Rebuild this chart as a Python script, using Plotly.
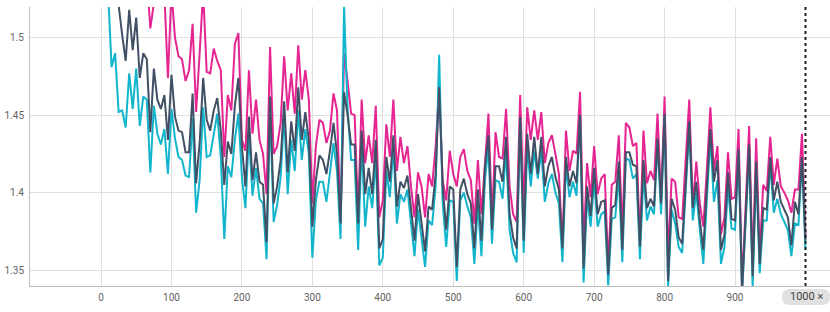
import plotly.graph_objects as go

# training steps, one logged value every 5 steps
steps = list(range(0, 1001, 5))

run_pink = [
    1.700, 1.680, 1.660, 1.640, 1.620, 1.610, 1.600, 1.590, 1.580, 1.570,
    1.560, 1.560, 1.550, 1.540, 1.506, 1.522, 1.521, 1.530, 1.528, 1.474,
    1.530, 1.500, 1.488, 1.486, 1.472, 1.479, 1.509, 1.452, 1.490, 1.530,
    1.478, 1.477, 1.493, 1.485, 1.479, 1.423, 1.463, 1.453, 1.496, 1.503,
    1.434, 1.427, 1.479, 1.438, 1.460, 1.434, 1.425, 1.399, 1.494, 1.425,
    1.430, 1.445, 1.488, 1.453, 1.477, 1.451, 1.495, 1.460, 1.479, 1.460,
    1.393, 1.430, 1.447, 1.445, 1.432, 1.440, 1.464, 1.453, 1.380, 1.490,
    1.472, 1.451, 1.450, 1.386, 1.460, 1.419, 1.437, 1.419, 1.456, 1.384,
    1.395, 1.444, 1.423, 1.460, 1.414, 1.436, 1.419, 1.430, 1.404, 1.384,
    1.413, 1.404, 1.384, 1.412, 1.404, 1.430, 1.468, 1.408, 1.395, 1.427,
    1.412, 1.404, 1.423, 1.428, 1.414, 1.408, 1.380, 1.421, 1.386, 1.421,
    1.451, 1.382, 1.439, 1.423, 1.422, 1.454, 1.404, 1.386, 1.381, 1.463,
    1.390, 1.455, 1.434, 1.453, 1.434, 1.452, 1.419, 1.432, 1.437, 1.425,
    1.412, 1.365, 1.440, 1.414, 1.427, 1.425, 1.465, 1.365, 1.419, 1.397,
    1.430, 1.399, 1.409, 1.412, 1.352, 1.405, 1.407, 1.437, 1.373, 1.445,
    1.442, 1.430, 1.432, 1.369, 1.440, 1.406, 1.414, 1.408, 1.451, 1.395,
    1.462, 1.358, 1.409, 1.407, 1.384, 1.383, 1.420, 1.460, 1.391, 1.420,
    1.393, 1.378, 1.415, 1.455, 1.414, 1.430, 1.373, 1.384, 1.426, 1.396,
    1.397, 1.441, 1.339, 1.390, 1.443, 1.352, 1.435, 1.360, 1.405, 1.401,
    1.436, 1.405, 1.422, 1.404, 1.400, 1.395, 1.387, 1.402, 1.402, 1.438,
    1.372,
]

run_dark = [
    1.640, 1.610, 1.580, 1.560, 1.540, 1.520, 1.502, 1.485, 1.518, 1.492,
    1.513, 1.474, 1.490, 1.486, 1.439, 1.480, 1.460, 1.454, 1.463, 1.434,
    1.476, 1.449, 1.440, 1.439, 1.426, 1.426, 1.464, 1.406, 1.432, 1.474,
    1.447, 1.440, 1.453, 1.461, 1.440, 1.405, 1.433, 1.425, 1.456, 1.474,
    1.430, 1.404, 1.449, 1.408, 1.426, 1.407, 1.405, 1.368, 1.462, 1.393,
    1.404, 1.421, 1.459, 1.413, 1.446, 1.427, 1.468, 1.434, 1.452, 1.434,
    1.378, 1.408, 1.424, 1.421, 1.412, 1.427, 1.445, 1.425, 1.380, 1.465,
    1.450, 1.431, 1.431, 1.380, 1.440, 1.399, 1.416, 1.399, 1.434, 1.364,
    1.370, 1.423, 1.407, 1.437, 1.391, 1.407, 1.403, 1.411, 1.389, 1.369,
    1.399, 1.382, 1.362, 1.391, 1.389, 1.412, 1.468, 1.404, 1.376, 1.404,
    1.402, 1.352, 1.402, 1.409, 1.399, 1.393, 1.364, 1.402, 1.369, 1.417,
    1.437, 1.376, 1.417, 1.417, 1.407, 1.436, 1.386, 1.371, 1.364, 1.449,
    1.369, 1.438, 1.412, 1.436, 1.412, 1.436, 1.404, 1.417, 1.423, 1.410,
    1.402, 1.364, 1.423, 1.404, 1.414, 1.406, 1.450, 1.351, 1.404, 1.385,
    1.416, 1.386, 1.394, 1.395, 1.347, 1.390, 1.392, 1.420, 1.363, 1.426,
    1.426, 1.418, 1.417, 1.365, 1.421, 1.390, 1.396, 1.391, 1.435, 1.393,
    1.451, 1.343, 1.396, 1.389, 1.371, 1.367, 1.406, 1.446, 1.390, 1.407,
    1.382, 1.363, 1.404, 1.441, 1.407, 1.421, 1.363, 1.373, 1.413, 1.383,
    1.382, 1.428, 1.337, 1.385, 1.431, 1.346, 1.420, 1.354, 1.390, 1.389,
    1.423, 1.395, 1.407, 1.394, 1.389, 1.384, 1.366, 1.394, 1.386, 1.423,
    1.369,
]

run_cyan = [
    1.620, 1.580, 1.530, 1.481, 1.490, 1.452, 1.453, 1.442, 1.477, 1.454,
    1.480, 1.443, 1.462, 1.460, 1.413, 1.456, 1.438, 1.431, 1.441, 1.412,
    1.454, 1.435, 1.423, 1.421, 1.411, 1.410, 1.448, 1.387, 1.408, 1.455,
    1.423, 1.424, 1.438, 1.451, 1.423, 1.370, 1.417, 1.410, 1.434, 1.451,
    1.410, 1.390, 1.438, 1.398, 1.416, 1.396, 1.393, 1.357, 1.455, 1.381,
    1.392, 1.410, 1.450, 1.399, 1.434, 1.414, 1.453, 1.421, 1.441, 1.425,
    1.358, 1.395, 1.407, 1.407, 1.394, 1.414, 1.432, 1.414, 1.370, 1.520,
    1.454, 1.421, 1.421, 1.363, 1.432, 1.378, 1.404, 1.390, 1.423, 1.353,
    1.358, 1.414, 1.397, 1.430, 1.380, 1.399, 1.394, 1.402, 1.378, 1.359,
    1.389, 1.371, 1.352, 1.382, 1.379, 1.404, 1.489, 1.393, 1.365, 1.395,
    1.394, 1.343, 1.395, 1.400, 1.391, 1.384, 1.354, 1.393, 1.359, 1.408,
    1.430, 1.367, 1.408, 1.407, 1.396, 1.427, 1.376, 1.361, 1.355, 1.447,
    1.361, 1.430, 1.404, 1.427, 1.409, 1.427, 1.394, 1.406, 1.412, 1.400,
    1.393, 1.355, 1.417, 1.397, 1.407, 1.398, 1.450, 1.342, 1.397, 1.378,
    1.408, 1.378, 1.386, 1.388, 1.340, 1.383, 1.384, 1.411, 1.355, 1.422,
    1.421, 1.409, 1.412, 1.357, 1.412, 1.382, 1.391, 1.386, 1.432, 1.386,
    1.449, 1.339, 1.389, 1.380, 1.365, 1.361, 1.399, 1.442, 1.382, 1.400,
    1.376, 1.354, 1.395, 1.436, 1.394, 1.408, 1.354, 1.365, 1.404, 1.377,
    1.376, 1.423, 1.335, 1.380, 1.425, 1.339, 1.415, 1.348, 1.382, 1.382,
    1.419, 1.387, 1.396, 1.386, 1.381, 1.376, 1.359, 1.380, 1.379, 1.421,
    1.363,
]

x_ticks = [0, 100, 200, 300, 400, 500, 600, 700, 800, 900]
y_ticks = [1.35, 1.4, 1.45, 1.5]
y_labels = ["1.35", "1.4", "1.45", "1.5"]
marker_step = 1000

fig = go.Figure()
fig.add_trace(go.Scatter(x=steps, y=run_pink, mode="lines", name="pink",
                         line=dict(color="#e52592", width=2)))
fig.add_trace(go.Scatter(x=steps, y=run_cyan, mode="lines", name="cyan",
                         line=dict(color="#12b5cb", width=2)))
fig.add_trace(go.Scatter(x=steps, y=run_dark, mode="lines", name="dark",
                         line=dict(color="#425066", width=2)))

# dotted step marker and its chip under the axis
fig.add_shape(type="line", xref="x", yref="paper", x0=marker_step, x1=marker_step,
              y0=0, y1=1, line=dict(color="#212121", width=2, dash="dot"))
fig.add_shape(type="path", xref="paper", yref="paper",
              xsizemode="pixel", ysizemode="pixel",
              xanchor=0.97, yanchor=-0.0394,
              path="M -16,-8 L 16,-8 Q 24,-8 24,0 Q 24,8 16,8 L -16,8 Q -24,8 -24,0 Q -24,-8 -16,-8 Z",
              fillcolor="#e0e0e0", line=dict(width=0))
fig.add_annotation(x=0.97, y=-0.0394, xref="paper", yref="paper",
                   text=f"{marker_step} \u00d7", showarrow=False,
                   font=dict(family="Roboto", size=11, color="#424242"),
                   xanchor="center", yanchor="middle")

fig.update_layout(
    width=830, height=312,
    margin=dict(l=30, r=0, t=7, b=26, autoexpand=False),
    paper_bgcolor="white", plot_bgcolor="white",
    showlegend=False,
    font=dict(family="Roboto", size=10, color="#616161"),
)
fig.update_xaxes(range=[-100.8, 1034.8], tickvals=x_ticks, showgrid=True,
                 gridcolor="#e0e0e0", gridwidth=1, zeroline=False,
                 showline=True, linecolor="#bdbdbd", linewidth=1, ticks="",
                 automargin=False, ticklabelstandoff=2)
fig.update_yaxes(range=[1.3397, 1.5198], tickvals=y_ticks, ticktext=y_labels,
                 showgrid=True, gridcolor="#e0e0e0", gridwidth=1, zeroline=False,
                 showline=True, linecolor="#bdbdbd", linewidth=1, ticks="",
                 automargin=False, ticklabelstandoff=3)

# page body has a default 8px margin; drop it so the figure fills the window
fig.write_html("out.html", config={"displayModeBar": False},
               post_script="document.body.style.margin='0';")
